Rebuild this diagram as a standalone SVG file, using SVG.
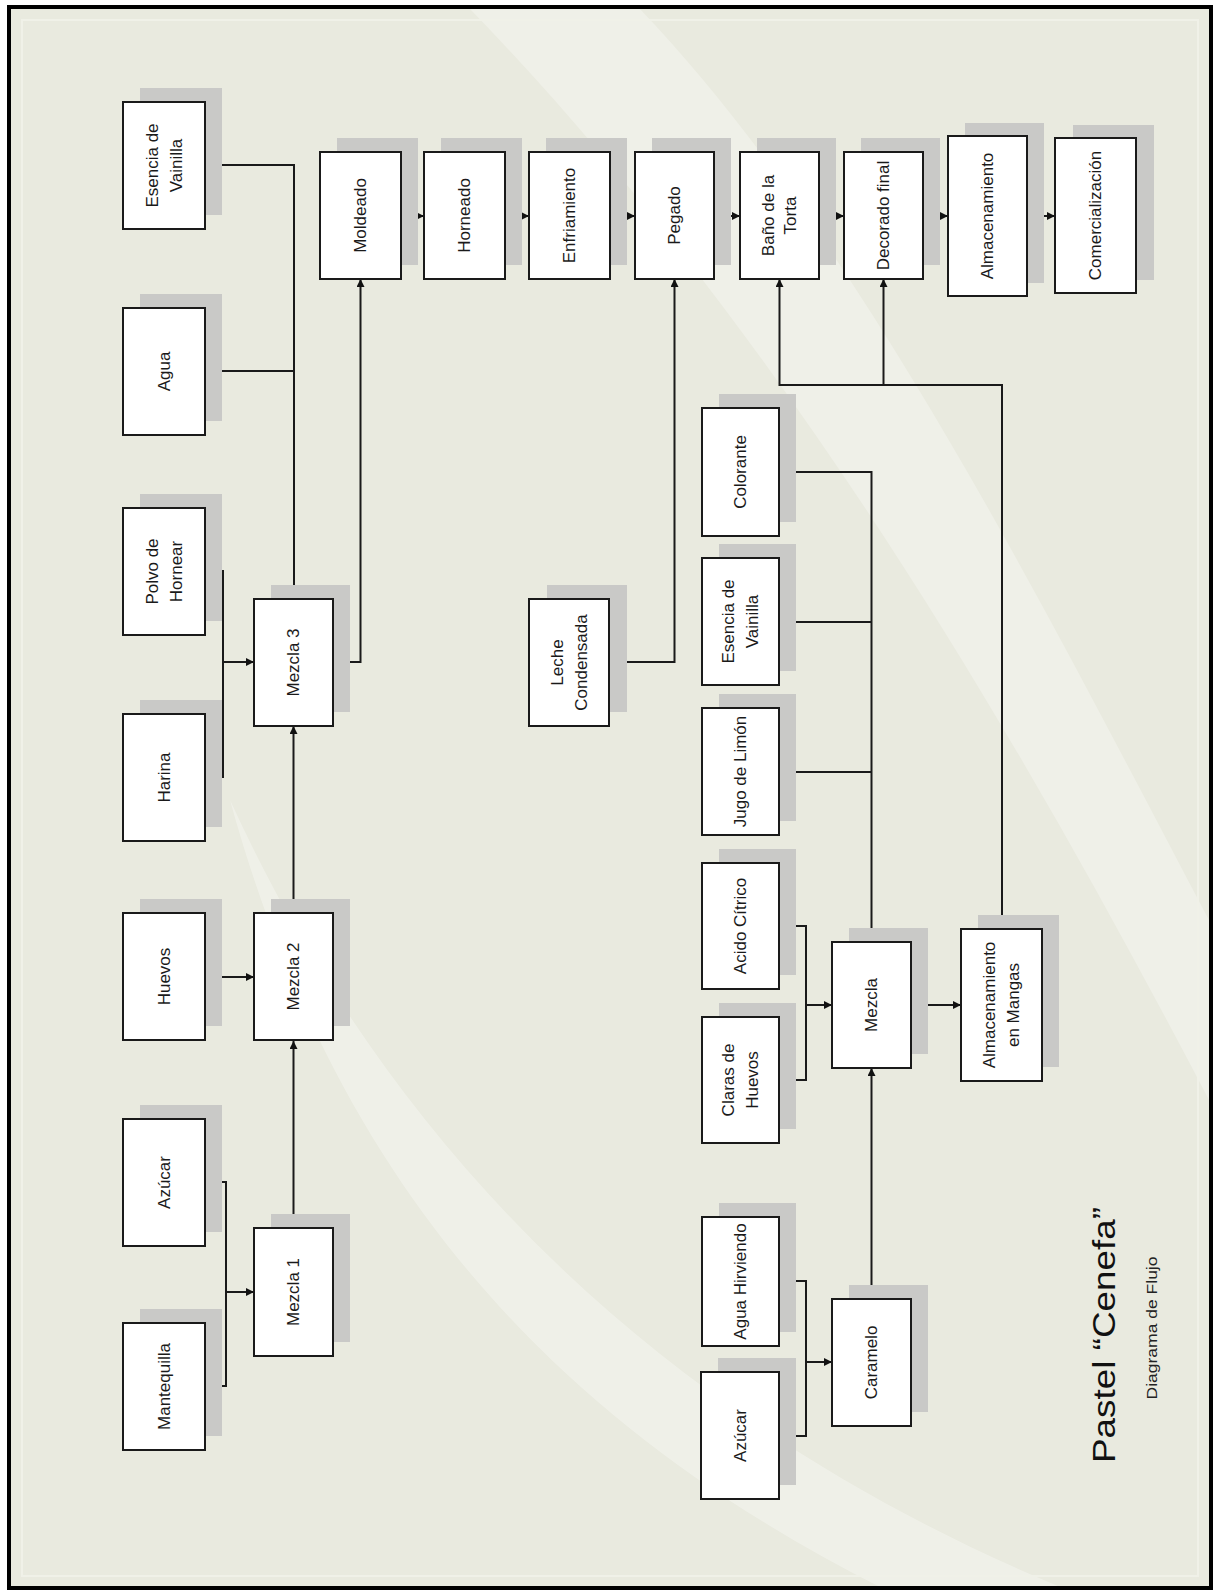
<svg xmlns="http://www.w3.org/2000/svg" width="1218" height="1591" viewBox="0 0 1218 1591">
<defs>
<style>
.sh{fill:#C9C9C7}
.bx{fill:#FFFFFF;stroke:#1A1A1A;stroke-width:2}
.t{font-family:"Liberation Sans",Arial,sans-serif;font-size:17px;fill:#1A1A1A;text-anchor:middle}
.c{fill:none;stroke:#1A1A1A;stroke-width:2}
.a{marker-end:url(#ah)}
.sw{fill:#FFFFFF}
</style>
<marker id="ah" markerWidth="8" markerHeight="8" refX="8" refY="4" orient="auto" markerUnits="userSpaceOnUse">
<path d="M0,0 L8,4 L0,8 Z" fill="#111111"/>
</marker>
</defs>
<rect x="0" y="0" width="1218" height="1591" fill="#FFFFFF"/>
<rect x="9" y="7" width="1202" height="1581" fill="#E9EADF"/>
<g id="background-swoosh">
<path class="sw" opacity="0.28" d="M470,9 L640,9 C860,240 1040,600 1209,920 L1209,1100 C1010,720 780,330 470,9 Z"/>
<path class="sw" opacity="0.3" d="M230,800 C390,1150 660,1420 1060,1587 L880,1587 C570,1430 340,1200 230,800 Z"/>
<rect x="22" y="20" width="1176" height="1556" fill="none" stroke="#F0F1E8" stroke-width="2"/>
</g>
<rect x="9" y="7" width="1202" height="1581" fill="none" stroke="#000000" stroke-width="4"/>

<g id="connectors">
<path class="c a" d="M205,165 H294 V599"/>
<path class="c" d="M205,371 H294"/>
<path class="c" d="M205,571 H223 V777 H205"/>
<path class="c a" d="M223,662 H254"/>
<path class="c a" d="M333,662 H360.5 V279"/>
<path class="c a" d="M205,977 H254"/>
<path class="c a" d="M293.5,913 V726"/>
<path class="c a" d="M293.5,1228 V1041"/>
<path class="c" d="M205,1182 H226 V1386 H205"/>
<path class="c a" d="M226,1292 H254"/>
<path class="c a" d="M401,216 H424"/>
<path class="c a" d="M505,216 H529"/>
<path class="c a" d="M610,216 H635"/>
<path class="c a" d="M714,216 H740"/>
<path class="c a" d="M819,216 H844"/>
<path class="c a" d="M923,216 H948"/>
<path class="c a" d="M1027,216 H1055"/>
<path class="c a" d="M609,662 H674.5 V279"/>
<path class="c a" d="M779,472 H871.5 V942"/>
<path class="c" d="M779,622 H871.5"/>
<path class="c" d="M779,772 H871.5"/>
<path class="c" d="M779,926 H806 V1080 H779"/>
<path class="c a" d="M806,1005 H832"/>
<path class="c a" d="M911,1005 H961"/>
<path class="c a" d="M871.5,1299 V1068"/>
<path class="c a" d="M1002,929 V385 H779.5 V279"/>
<path class="c a" d="M883.5,385 V279"/>
<path class="c" d="M779,1281 H806 V1436 H779"/>
<path class="c a" d="M806,1362 H832"/>
</g>

<g id="n-esencia1">
<rect class="sh" x="140" y="88" width="82" height="127"/>
<rect class="bx" x="123" y="102" width="82" height="127"/>
<text class="t" transform="translate(164,165.5) rotate(-90)"><tspan x="0" y="-12" dy="0.35em">Esencia de</tspan><tspan x="0" y="12" dy="0.35em">Vainilla</tspan></text>
</g>
<g id="n-agua">
<rect class="sh" x="140" y="294" width="82" height="127"/>
<rect class="bx" x="123" y="308" width="82" height="127"/>
<text class="t" transform="translate(164,371.5) rotate(-90)" dy="0.35em">Agua</text>
</g>
<g id="n-polvo">
<rect class="sh" x="140" y="494" width="82" height="127"/>
<rect class="bx" x="123" y="508" width="82" height="127"/>
<text class="t" transform="translate(164,571.5) rotate(-90)"><tspan x="0" y="-12" dy="0.35em">Polvo de</tspan><tspan x="0" y="12" dy="0.35em">Hornear</tspan></text>
</g>
<g id="n-harina">
<rect class="sh" x="140" y="700" width="82" height="127"/>
<rect class="bx" x="123" y="714" width="82" height="127"/>
<text class="t" transform="translate(164,777.5) rotate(-90)" dy="0.35em">Harina</text>
</g>
<g id="n-huevos">
<rect class="sh" x="140" y="899" width="82" height="127"/>
<rect class="bx" x="123" y="913" width="82" height="127"/>
<text class="t" transform="translate(164,976.5) rotate(-90)" dy="0.35em">Huevos</text>
</g>
<g id="n-azucar1">
<rect class="sh" x="140" y="1105" width="82" height="127"/>
<rect class="bx" x="123" y="1119" width="82" height="127"/>
<text class="t" transform="translate(164,1182.5) rotate(-90)" dy="0.35em">Azúcar</text>
</g>
<g id="n-mantequilla">
<rect class="sh" x="140" y="1309" width="82" height="127"/>
<rect class="bx" x="123" y="1323" width="82" height="127"/>
<text class="t" transform="translate(164,1386.5) rotate(-90)" dy="0.35em">Mantequilla</text>
</g>

<g id="n-mezcla3">
<rect class="sh" x="271" y="585" width="79" height="127"/>
<rect class="bx" x="254" y="599" width="79" height="127"/>
<text class="t" transform="translate(293.5,662.5) rotate(-90)" dy="0.35em">Mezcla 3</text>
</g>
<g id="n-mezcla2">
<rect class="sh" x="271" y="899" width="79" height="127"/>
<rect class="bx" x="254" y="913" width="79" height="127"/>
<text class="t" transform="translate(293.5,976.5) rotate(-90)" dy="0.35em">Mezcla 2</text>
</g>
<g id="n-mezcla1">
<rect class="sh" x="271" y="1214" width="79" height="128"/>
<rect class="bx" x="254" y="1228" width="79" height="128"/>
<text class="t" transform="translate(293.5,1292) rotate(-90)" dy="0.35em">Mezcla 1</text>
</g>

<g id="n-moldeado">
<rect class="sh" x="337" y="138" width="81" height="127"/>
<rect class="bx" x="320" y="152" width="81" height="127"/>
<text class="t" transform="translate(360.5,215.5) rotate(-90)" dy="0.35em">Moldeado</text>
</g>
<g id="n-horneado">
<rect class="sh" x="441" y="138" width="81" height="127"/>
<rect class="bx" x="424" y="152" width="81" height="127"/>
<text class="t" transform="translate(464.5,215.5) rotate(-90)" dy="0.35em">Horneado</text>
</g>
<g id="n-enfriamiento">
<rect class="sh" x="546" y="138" width="81" height="127"/>
<rect class="bx" x="529" y="152" width="81" height="127"/>
<text class="t" transform="translate(569.5,215.5) rotate(-90)" dy="0.35em">Enfriamiento</text>
</g>
<g id="n-pegado">
<rect class="sh" x="652" y="138" width="79" height="127"/>
<rect class="bx" x="635" y="152" width="79" height="127"/>
<text class="t" transform="translate(674.5,215.5) rotate(-90)" dy="0.35em">Pegado</text>
</g>
<g id="n-bano">
<rect class="sh" x="757" y="138" width="79" height="127"/>
<rect class="bx" x="740" y="152" width="79" height="127"/>
<text class="t" transform="translate(779.5,215.5) rotate(-90)"><tspan x="0" y="-11" dy="0.35em">Baño de la</tspan><tspan x="0" y="11" dy="0.35em">Torta</tspan></text>
</g>
<g id="n-decorado">
<rect class="sh" x="861" y="138" width="79" height="127"/>
<rect class="bx" x="844" y="152" width="79" height="127"/>
<text class="t" transform="translate(883.5,215.5) rotate(-90)" dy="0.35em">Decorado final</text>
</g>
<g id="n-almacenamiento">
<rect class="sh" x="965" y="123" width="79" height="160"/>
<rect class="bx" x="948" y="136" width="79" height="160"/>
<text class="t" transform="translate(987.5,216) rotate(-90)" dy="0.35em">Almacenamiento</text>
</g>
<g id="n-comercializacion">
<rect class="sh" x="1073" y="125" width="81" height="155"/>
<rect class="bx" x="1055" y="138" width="81" height="155"/>
<text class="t" transform="translate(1095.5,215.5) rotate(-90)" dy="0.35em">Comercialización</text>
</g>

<g id="n-leche">
<rect class="sh" x="547" y="585" width="80" height="127"/>
<rect class="bx" x="529" y="599" width="80" height="127"/>
<text class="t" transform="translate(569,662.5) rotate(-90)"><tspan x="0" y="-12" dy="0.35em">Leche</tspan><tspan x="0" y="12" dy="0.35em">Condensada</tspan></text>
</g>

<g id="n-colorante">
<rect class="sh" x="719" y="394" width="77" height="128"/>
<rect class="bx" x="702" y="408" width="77" height="128"/>
<text class="t" transform="translate(740.5,472) rotate(-90)" dy="0.35em">Colorante</text>
</g>
<g id="n-esencia2">
<rect class="sh" x="719" y="544" width="77" height="127"/>
<rect class="bx" x="702" y="558" width="77" height="127"/>
<text class="t" transform="translate(740.5,621.5) rotate(-90)"><tspan x="0" y="-12" dy="0.35em">Esencia de</tspan><tspan x="0" y="12" dy="0.35em">Vainilla</tspan></text>
</g>
<g id="n-jugo">
<rect class="sh" x="719" y="694" width="77" height="127"/>
<rect class="bx" x="702" y="708" width="77" height="127"/>
<text class="t" transform="translate(740.5,771.5) rotate(-90)" dy="0.35em">Jugo de Limón</text>
</g>
<g id="n-acido">
<rect class="sh" x="719" y="849" width="77" height="126"/>
<rect class="bx" x="702" y="863" width="77" height="126"/>
<text class="t" transform="translate(740.5,926) rotate(-90)" dy="0.35em">Acido Cítrico</text>
</g>
<g id="n-claras">
<rect class="sh" x="719" y="1003" width="77" height="126"/>
<rect class="bx" x="702" y="1017" width="77" height="126"/>
<text class="t" transform="translate(740.5,1080) rotate(-90)"><tspan x="0" y="-12" dy="0.35em">Claras de</tspan><tspan x="0" y="12" dy="0.35em">Huevos</tspan></text>
</g>
<g id="n-aguahirviendo">
<rect class="sh" x="719" y="1203" width="77" height="129"/>
<rect class="bx" x="702" y="1217" width="77" height="129"/>
<text class="t" transform="translate(740.5,1281.5) rotate(-90)" dy="0.35em">Agua Hirviendo</text>
</g>
<g id="n-azucar2">
<rect class="sh" x="718" y="1358" width="78" height="127"/>
<rect class="bx" x="701" y="1372" width="78" height="127"/>
<text class="t" transform="translate(740,1435.5) rotate(-90)" dy="0.35em">Azúcar</text>
</g>

<g id="n-mezcla">
<rect class="sh" x="849" y="928" width="79" height="126"/>
<rect class="bx" x="832" y="942" width="79" height="126"/>
<text class="t" transform="translate(871.5,1005) rotate(-90)" dy="0.35em">Mezcla</text>
</g>
<g id="n-caramelo">
<rect class="sh" x="849" y="1285" width="79" height="127"/>
<rect class="bx" x="832" y="1299" width="79" height="127"/>
<text class="t" transform="translate(871.5,1362.5) rotate(-90)" dy="0.35em">Caramelo</text>
</g>
<g id="n-mangas">
<rect class="sh" x="978" y="915" width="81" height="152"/>
<rect class="bx" x="961" y="929" width="81" height="152"/>
<text class="t" transform="translate(1001.5,1005) rotate(-90)"><tspan x="0" y="-12" dy="0.35em">Almacenamiento</tspan><tspan x="0" y="12" dy="0.35em">en Mangas</tspan></text>
</g>

<g id="title">
<text transform="translate(1115,1335) rotate(-90)" font-family="'Liberation Sans',Arial,sans-serif" font-size="31" fill="#111111" text-anchor="middle" textLength="256" lengthAdjust="spacingAndGlyphs">Pastel “Cenefa”</text>
<text transform="translate(1157,1328) rotate(-90)" font-family="'Liberation Sans',Arial,sans-serif" font-size="15" fill="#222222" text-anchor="middle" textLength="143" lengthAdjust="spacingAndGlyphs">Diagrama de Flujo</text>
</g>
</svg>
